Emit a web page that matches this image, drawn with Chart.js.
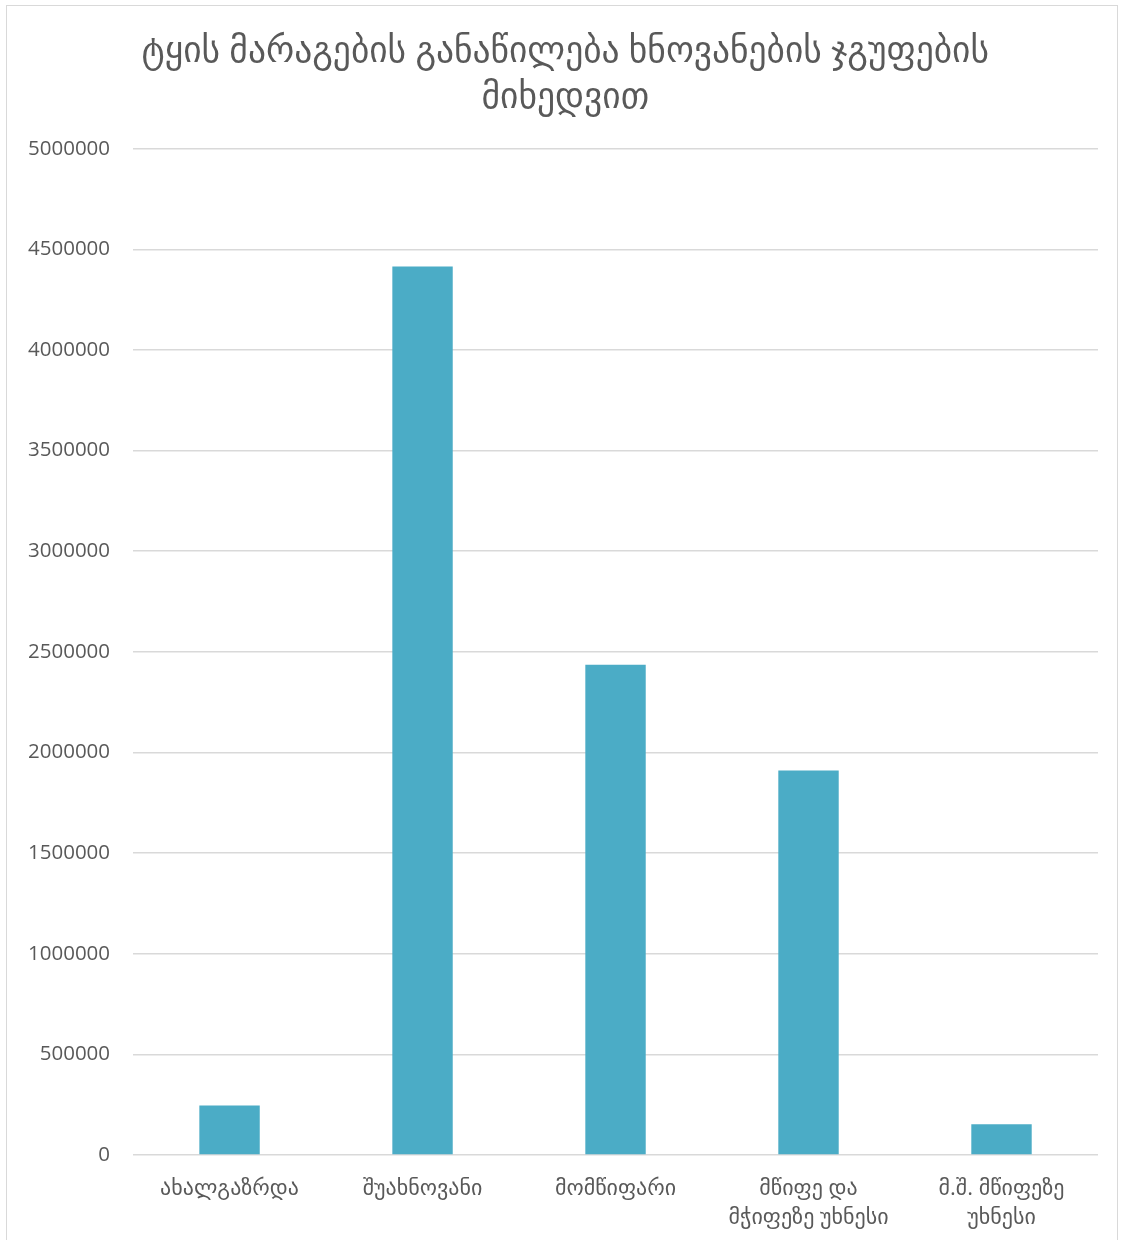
<!DOCTYPE html>
<html>
<head>
<meta charset="utf-8">
<script src="https://cdn.jsdelivr.net/npm/chart.js@4.4.0/dist/chart.umd.min.js"></script>
<style>
  body { margin: 0; background: #fff; overflow: hidden; }
  #frame {
    position: absolute; left: 6px; top: 5px;
    width: 1110px; height: 1280px;
    border: 1px solid #d9d9d9; background: #fff;
  }
  canvas { display: block; }
</style>
</head>
<body>
<div id="frame">
  <canvas id="ageChart" width="1110" height="1253"></canvas>
</div>
<script>
// ხნოვანების ჯგუფები და მარაგი
const categories = [
  'ახალგაზრდა',
  'შუახნოვანი',
  'მომწიფარი',
  ['მწიფე და', 'მჭიფეზე უხნესი'],
  ['მ.შ. მწიფეზე', 'უხნესი']
];
const stockValues = [245000, 4415000, 2436000, 1910000, 153000];
// leading spaces nudge the centred title slightly to the right
const titleLines = ['\u00a0\u00a0\u00a0ტყის მარაგების განაწილება ხნოვანების ჯგუფების', '\u00a0\u00a0\u00a0მიხედვით'];

const textColor = '#595959';
const fontFamily = '"Open Sans", "DejaVu Sans", sans-serif';

const ctx = document.getElementById('ageChart').getContext('2d');
new Chart(ctx, {
  type: 'bar',
  data: {
    labels: categories,
    datasets: [{
      label: 'მარაგი',
      data: stockValues,
      backgroundColor: '#4bacc6',
      categoryPercentage: 1,
      barPercentage: 0.313
    }]
  },
  options: {
    responsive: false,
    animation: false,
    devicePixelRatio: 1,
    layout: { padding: { left: -2, right: 19, top: 0, bottom: 8 } },
    plugins: {
      legend: { display: false },
      tooltip: { enabled: false },
      title: {
        display: true,
        text: titleLines,
        color: textColor,
        font: { family: fontFamily, size: 35.5, weight: 'normal', lineHeight: 1.32 },
        padding: { top: 22, bottom: 27 }
      }
    },
    scales: {
      x: {
        grid: { display: false, drawTicks: false },
        border: { display: false },
        ticks: {
          color: textColor,
          padding: 19,
          maxRotation: 0,
          autoSkip: false,
          font: { family: fontFamily, size: 22, lineHeight: 1.32 }
        }
      },
      y: {
        min: 0,
        max: 5000000,
        grid: { color: '#d9d9d9', lineWidth: 1.5, drawTicks: false },
        border: { display: false },
        ticks: {
          stepSize: 500000,
          color: textColor,
          padding: 23,
          font: { family: fontFamily, size: 20.5 },
          callback: v => String(v)
        }
      }
    }
  }
});
</script>
</body>
</html>
